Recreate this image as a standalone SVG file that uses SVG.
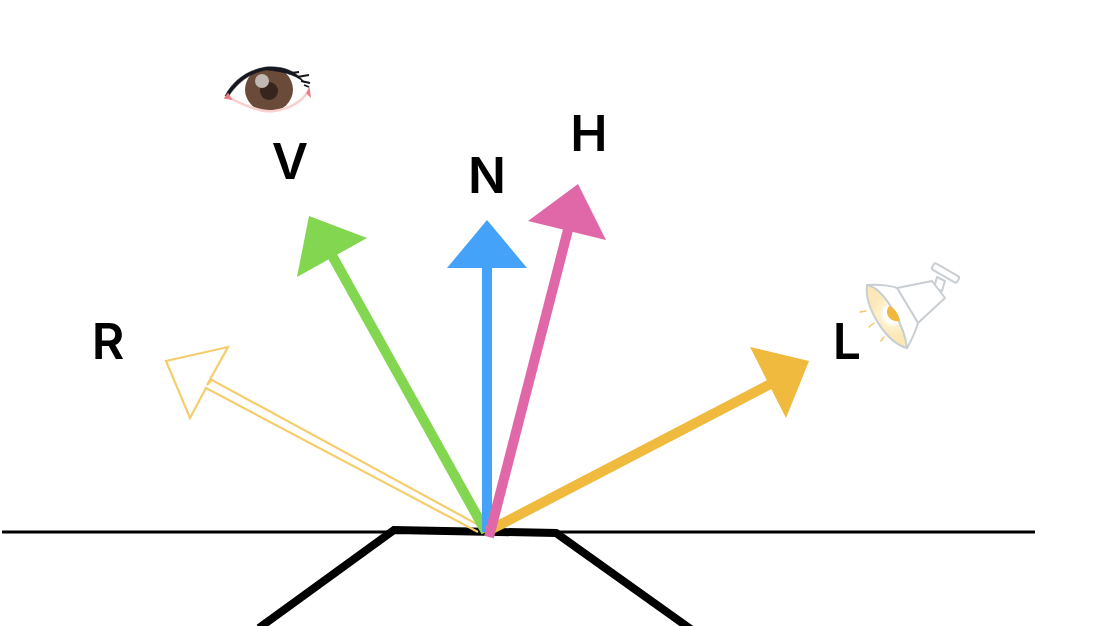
<svg xmlns="http://www.w3.org/2000/svg" width="1094" height="626" viewBox="0 0 1094 626">
<style>
.lbl{font-family:"Inter","Liberation Sans",sans-serif;font-size:50px;font-weight:600;fill:#000;text-anchor:middle}
.lamp{fill:#fff;stroke:#c9ced3;stroke-width:2;stroke-linejoin:round}
.ray{stroke:#f5c869;stroke-width:1.5;stroke-linecap:round;fill:none}
</style>
<defs>
<radialGradient id="glow" gradientUnits="userSpaceOnUse" cx="893" cy="314" r="22">
<stop offset="0.4" stop-color="#fff"/><stop offset="0.6" stop-color="#fdf0cb"/><stop offset="1" stop-color="#fbe8b6"/>
</radialGradient>
</defs>
<rect width="1094" height="626" fill="#fff"/>
<g id="surface">
<path d="M2 532H1035" stroke="#000" stroke-width="3" fill="none"/>
<path d="M259 628L394 530L556 533L692 630" stroke="#000" stroke-width="8" fill="none" stroke-linejoin="miter"/>
</g>
<g id="connectors">
<path d="M484 528L212 380L207 385L228 347L166 361L190 418L206 388L478 532" fill="none" stroke="#f5cd6c" stroke-width="2.2"/>
<g id="conn-v"><path d="M486 532L329 250" stroke="#82d650" stroke-width="10" fill="none"/><polygon points="309,216 367,238 297,277" fill="#82d650"/></g>
<g id="conn-n"><path d="M487 532V262" stroke="#44a2f8" stroke-width="10" fill="none"/><polygon points="487,220 527,268 447,268" fill="#44a2f8"/></g>
<g id="conn-l"><path d="M488 531L778 380" stroke="#f0ba3e" stroke-width="10" fill="none"/><polygon points="809,361 750,347 786,418" fill="#f0ba3e"/></g>
<g id="conn-h"><path d="M489 537L570 222" stroke="#e068a8" stroke-width="10" fill="none"/><polygon points="578,184 606,240 528,221" fill="#e068a8"/></g>
</g>
<g id="label-v"><text class="lbl" x="290" y="179">V</text></g>
<g id="label-n"><text class="lbl" x="487" y="193">N</text></g>
<g id="label-h"><text class="lbl" x="589" y="151">H</text></g>
<g id="label-r"><text class="lbl" x="108" y="359">R</text></g>
<g id="label-l"><text class="lbl" x="847" y="359">L</text></g>
<g id="eye">
<path d="M226 97C236 110 252 113 268 112C284 112 298 106 308 92C296 78 282 70 268 69C250 69 236 80 226 97Z" fill="#fff"/>
<ellipse cx="269" cy="89.500" rx="24" ry="22.500" fill="#6a4a38"/>
<path d="M227 97C233 99 240 104 253 108C262 111 268 112 274 111C288 109 300 103 307 93" fill="none" stroke="#f8d0cf" stroke-width="2.5"/>
<circle cx="269" cy="91" r="9" fill="#35251c"/>
<circle cx="262" cy="81" r="7" fill="#c2b8b3"/>
<path d="M225 96C232 82 246 70 266 67C280 66 295 69 305 83C295 74 280 71 266 70C250 73 238 82 228 97Z" fill="#17171f" stroke="#17171f" stroke-width="0.5"/>
<path d="M291 73L299 72M297 77L309 75M301 81L310 83M304 85L309 87" stroke="#17171f" stroke-width="1.8" fill="none"/>
<path d="M225 98L228 94L231 99Z" fill="#ea7d86" stroke="#ea7d86" stroke-width="1.5"/>
<path d="M310 96L307 93L309 89Z" fill="#ea7d86" stroke="#ea7d86" stroke-width="1.5"/>
</g>
<g id="lamp">
<rect x="931" y="269.500" width="29" height="7" rx="2" transform="rotate(30 945.500 273)" class="lamp"/>
<path d="M937 277L934 288L942 291L945 281Z" class="lamp"/>
<path d="M897 288L932 281L945 298L918 323Z" class="lamp"/>
<path d="M867 285C880 284 892 286 897 288L918 323C915 333 911 341 907 348Z" class="lamp"/>
<path d="M867 285C885 288 905 328 907 348C885 342 864 306 867 285Z" fill="url(#glow)" stroke="#c9ced3" stroke-width="2" stroke-linejoin="round"/>
<path d="M889 306C895 308 899 315 900 321C892 323 883 315 889 306Z" fill="#f1b73e"/>
<path d="M860 312L866 311M869 327L874 323M881 341L884 337" class="ray"/>
</g>
</svg>
